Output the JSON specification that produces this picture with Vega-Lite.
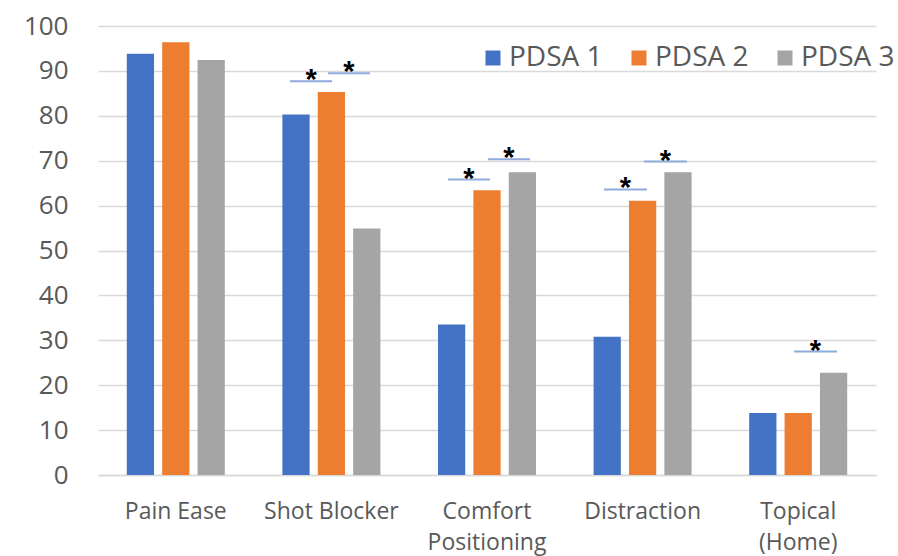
{
  "$schema": "https://vega.github.io/schema/vega-lite/v6.json",
  "width": 778,
  "height": 449,
  "autosize": {"type": "none"},
  "padding": {"left": 98, "top": 26, "right": 22, "bottom": 81},
  "background": "white",
  "config": {"view": {"stroke": null}, "font": "Open Sans"},
  "datasets": {
    "bars": [
      {"category": "Pain Ease", "series": "PDSA 1", "value": 93.8},
      {"category": "Pain Ease", "series": "PDSA 2", "value": 96.4},
      {"category": "Pain Ease", "series": "PDSA 3", "value": 92.4},
      {"category": "Shot Blocker", "series": "PDSA 1", "value": 80.3},
      {"category": "Shot Blocker", "series": "PDSA 2", "value": 85.3},
      {"category": "Shot Blocker", "series": "PDSA 3", "value": 54.9},
      {"category": "Comfort Positioning", "series": "PDSA 1", "value": 33.5},
      {"category": "Comfort Positioning", "series": "PDSA 2", "value": 63.4},
      {"category": "Comfort Positioning", "series": "PDSA 3", "value": 67.4},
      {"category": "Distraction", "series": "PDSA 1", "value": 30.8},
      {"category": "Distraction", "series": "PDSA 2", "value": 61.1},
      {"category": "Distraction", "series": "PDSA 3", "value": 67.4},
      {"category": "Topical (Home)", "series": "PDSA 1", "value": 13.8},
      {"category": "Topical (Home)", "series": "PDSA 2", "value": 13.8},
      {"category": "Topical (Home)", "series": "PDSA 3", "value": 22.8}
    ],
    "sig": [
      {"x1": 1.234, "x2": 1.504, "xm": 1.369, "y": 87.7},
      {"x1": 1.478, "x2": 1.748, "xm": 1.613, "y": 89.5},
      {"x1": 2.249, "x2": 2.519, "xm": 2.384, "y": 65.8},
      {"x1": 2.506, "x2": 2.776, "xm": 2.641, "y": 70.3},
      {"x1": 3.252, "x2": 3.528, "xm": 3.39, "y": 63.6},
      {"x1": 3.509, "x2": 3.785, "xm": 3.647, "y": 69.8},
      {"x1": 4.473, "x2": 4.749, "xm": 4.611, "y": 27.5}
    ]
  },
  "layer": [
    {
      "data": {"name": "bars"},
      "mark": {"type": "bar"},
      "encoding": {
        "x": {
          "field": "category",
          "type": "nominal",
          "sort": ["Pain Ease", "Shot Blocker", "Comfort Positioning", "Distraction", "Topical (Home)"],
          "scale": {"paddingInner": 0.37, "paddingOuter": 0.185},
          "axis": {
            "title": null,
            "domain": true,
            "domainColor": "#D9D9D9",
            "domainWidth": 1.3,
            "ticks": false,
            "labelAngle": 0,
            "labelFontSize": 23,
            "labelColor": "#595959",
            "labelPadding": 25,
            "labelLineHeight": 31,
            "labelExpr": "datum.value == 'Comfort Positioning' ? ['Comfort', 'Positioning'] : datum.value == 'Topical (Home)' ? ['Topical', '(Home)'] : datum.value"
          }
        },
        "xOffset": {
          "field": "series",
          "type": "nominal",
          "scale": {"paddingInner": 0.23, "paddingOuter": 0}
        },
        "y": {
          "field": "value",
          "type": "quantitative",
          "scale": {"domain": [0, 100], "nice": false},
          "axis": {
            "title": null,
            "values": [0, 10, 20, 30, 40, 50, 60, 70, 80, 90, 100],
            "grid": true,
            "gridColor": "#D9D9D9",
            "gridWidth": 1.3,
            "domain": false,
            "ticks": false,
            "tickSize": 0,
            "labelFontSize": 26,
            "labelColor": "#595959",
            "labelPadding": 30
          }
        },
        "color": {
          "field": "series",
          "type": "nominal",
          "scale": {"domain": ["PDSA 1", "PDSA 2", "PDSA 3"], "range": ["#4472C4", "#ED7D31", "#A5A5A5"]},
          "legend": {
            "title": null,
            "orient": "none",
            "legendX": 381,
            "legendY": 18,
            "direction": "horizontal",
            "symbolType": "square",
            "symbolSize": 225,
            "symbolStrokeWidth": 0,
            "labelFontSize": 28,
            "labelColor": "#595959",
            "labelOffset": 2,
            "columnPadding": 22,
            "labelLimit": 300,
            "padding": 0
          }
        }
      }
    },
    {
      "data": {"name": "sig"},
      "mark": {"type": "rule", "color": "#8FAADC", "strokeWidth": 2},
      "encoding": {
        "x": {"field": "x1", "type": "quantitative", "scale": {"domain": [0, 5], "nice": false, "zero": false}, "axis": null},
        "x2": {"field": "x2"},
        "y": {"field": "y", "type": "quantitative"}
      }
    },
    {
      "data": {"name": "sig"},
      "mark": {"type": "text", "text": "*", "fontSize": 29, "fontWeight": "bold", "font": "Liberation Sans", "color": "black", "baseline": "alphabetic", "dy": 8},
      "encoding": {
        "x": {"field": "xm", "type": "quantitative", "scale": {"domain": [0, 5], "nice": false, "zero": false}, "axis": null},
        "y": {"field": "y", "type": "quantitative"}
      }
    }
  ],
  "resolve": {"scale": {"x": "independent"}}
}
